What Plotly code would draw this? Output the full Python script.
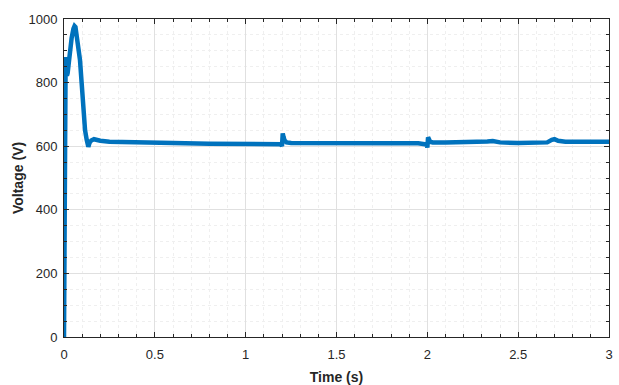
import plotly.graph_objects as go

# Data
time_s = [0.0, 0.003, 0.006, 0.009, 0.012, 0.016, 0.020, 0.026, 0.033, 0.042,
          0.052, 0.058, 0.063, 0.070, 0.080, 0.088, 0.097, 0.106, 0.116, 0.125,
          0.130, 0.134, 0.140, 0.150, 0.165, 0.20, 0.25, 0.30, 0.40, 0.60,
          0.80, 1.00, 1.15, 1.195, 1.200, 1.204, 1.208, 1.214, 1.225, 1.25,
          1.40, 1.60, 1.80, 1.95, 1.996, 2.000, 2.004, 2.009, 2.015, 2.03,
          2.10, 2.25, 2.33, 2.36, 2.40, 2.50, 2.62, 2.66, 2.685, 2.70,
          2.72, 2.76, 2.85, 3.0]
voltage_v = [0, 300, 650, 880, 860, 822, 830, 860, 903, 940,
             970, 978, 975, 950, 900, 871, 800, 714, 650, 620,
             600, 598, 610, 618, 622, 617, 614, 613, 612, 610,
             608, 607, 606, 606, 600, 640, 630, 618, 612, 610,
             609, 608, 609, 609, 605, 596, 628, 622, 614, 612,
             612, 612, 615, 616, 612, 610, 610, 612, 620, 622,
             617, 614, 614, 614]

x_ticks = [0, 0.5, 1, 1.5, 2, 2.5, 3]
x_labels = ["0", "0.5", "1", "1.5", "2", "2.5", "3"]
y_ticks = [0, 200, 400, 600, 800, 1000]
y_labels = ["0", "200", "400", "600", "800", "1000"]

FONT = "Liberation Sans, Arial, sans-serif"

fig = go.Figure()
fig.add_trace(go.Scatter(x=time_s, y=voltage_v, mode="lines",
                         line=dict(color="#0072BD", width=4.5),
                         showlegend=False, hoverinfo="skip"))

axis_common = dict(
    showline=True, linecolor="#262626", linewidth=1, mirror="allticks",
    ticks="inside", ticklen=5, tickcolor="#262626", tickwidth=1,
    showgrid=True, gridcolor="#e0e0e0", gridwidth=1,
    zeroline=False, automargin=False,
    tickfont=dict(family=FONT, size=13, color="#262626"),
)

fig.update_xaxes(
    range=[0, 3], tickvals=x_ticks, ticktext=x_labels, ticklabelstandoff=5,
    title=dict(text="<b>Time (s)</b>", font=dict(family=FONT, size=14, color="#262626"),
               standoff=12),
    minor=dict(dtick=0.1, ticks="inside", ticklen=3, tickcolor="#262626",
               showgrid=True, gridcolor="#efefef", griddash="dot", gridwidth=1),
    **axis_common)
fig.update_yaxes(
    range=[0, 1000], tickvals=y_ticks, ticktext=y_labels, ticklabelstandoff=3,
    title=dict(text="<b>Voltage (V)</b>", font=dict(family=FONT, size=14, color="#262626"),
               standoff=1),
    minor=dict(dtick=50, ticks="inside", ticklen=3, tickcolor="#262626",
               showgrid=True, gridcolor="#efefef", griddash="dot", gridwidth=1),
    **axis_common)

fig.update_layout(
    width=619, height=385,
    margin=dict(l=64, r=10, t=19, b=48),
    paper_bgcolor="white", plot_bgcolor="white",
)

fig.write_html("out.html")
